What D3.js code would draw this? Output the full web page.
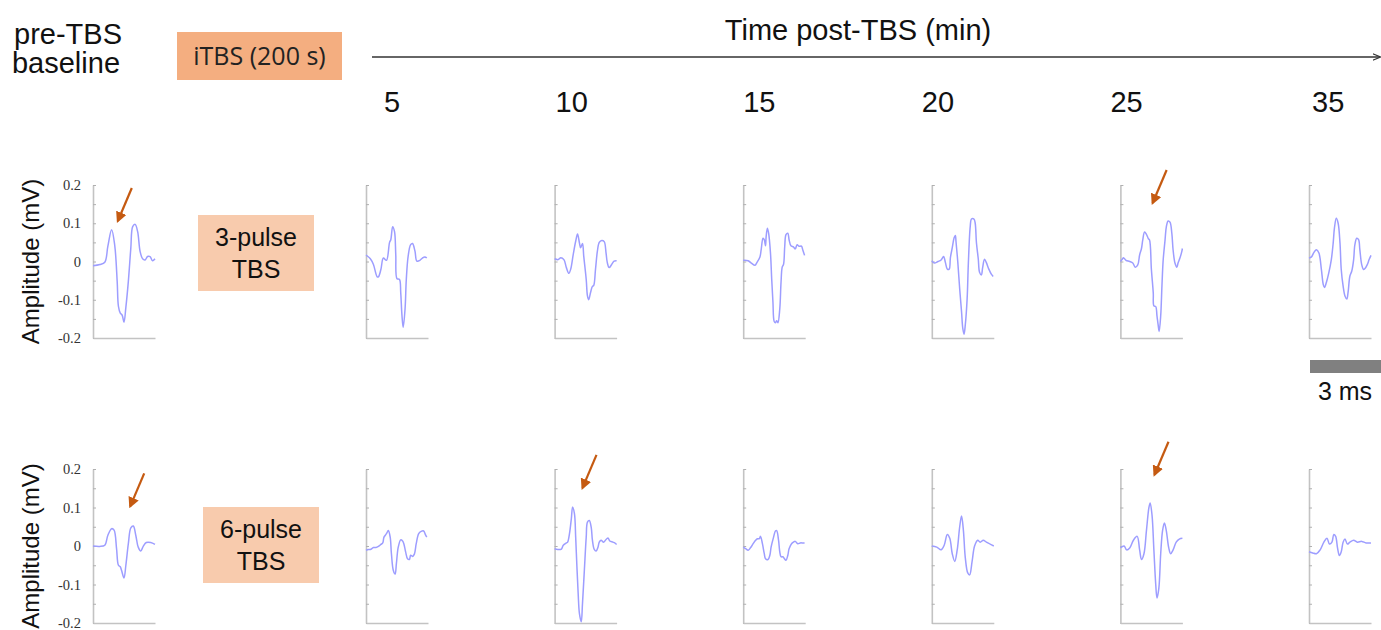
<!DOCTYPE html>
<html>
<head>
<meta charset="utf-8">
<script src="https://cdn.jsdelivr.net/npm/d3@7"></script>
<style>
  html, body { margin: 0; padding: 0; background: #ffffff; }
  svg { display: block; }
</style>
</head>
<body>
<svg id="chart" width="1381" height="630"></svg>
<script>
// ---------------- DATA ----------------
const rowLabels = ["3-pulse\nTBS", "6-pulse\nTBS"];
const timeLabels = ["5", "10", "15", "20", "25", "35"];
const panelKeys = ["baseline", "5", "10", "15", "20", "25", "35"];
const yTickValues = [-0.2, -0.15, -0.1, -0.05, 0, 0.05, 0.1, 0.15, 0.2];
const yTickLabels = ["-0.2", "", "-0.1", "", "0", "", "0.1", "", "0.2"];
const sweepMs = 2.6;           // length of each displayed sweep (ms)
const scaleBarMs = 3;          // scale bar length (ms)

// waveforms: [sweep fraction, amplitude mV]
const tbs3_baseline = [[0,-0.011],[0.11,-0.008],[0.19,-0.002],[0.24,0.04],[0.30,0.083],[0.35,0.043],[0.39,-0.052],[0.41,-0.117],[0.44,-0.135],[0.47,-0.14],[0.50,-0.159],[0.53,-0.12],[0.57,-0.052],[0.61,0.035],[0.64,0.091],[0.68,0.097],[0.72,0.078],[0.76,0.026],[0.80,0.007],[0.84,0.004],[0.88,0.013],[0.92,0.013],[0.96,0.002],[1.00,0.007]];
const tbs3_5 = [[0,0.017],[0.07,0.007],[0.12,-0.008],[0.18,-0.04],[0.20,-0.04],[0.24,-0.021],[0.28,0.009],[0.33,0.003],[0.38,0.05],[0.40,0.057],[0.43,0.091],[0.46,0.078],[0.48,0.018],[0.50,-0.045],[0.54,-0.047],[0.56,-0.081],[0.58,-0.141],[0.60,-0.172],[0.63,-0.124],[0.65,-0.047],[0.68,0.014],[0.72,0.044],[0.75,0.047],[0.79,0.027],[0.82,0.001],[0.87,0.003],[0.91,0.009],[0.95,0.012],[0.98,0.009]];
const tbs3_10 = [[0,0.007],[0.06,0.005],[0.10,0.01],[0.15,0.005],[0.19,-0.016],[0.23,-0.031],[0.26,-0.02],[0.30,0.018],[0.34,0.053],[0.37,0.072],[0.40,0.049],[0.42,0.036],[0.45,0.047],[0.47,0.014],[0.51,-0.047],[0.53,-0.09],[0.55,-0.1],[0.58,-0.081],[0.61,-0.065],[0.63,-0.063],[0.66,-0.02],[0.69,0.027],[0.72,0.05],[0.76,0.055],[0.80,0.052],[0.83,0.022],[0.85,-0.003],[0.88,-0.016],[0.92,-0.008],[0.96,0.001],[1.00,0.002]];
const tbs3_15 = [[0,0.003],[0.08,0.002],[0.13,-0.004],[0.19,-0.01],[0.22,-0.003],[0.27,0.012],[0.29,0.031],[0.32,0.061],[0.34,0.057],[0.36,0.041],[0.37,0.065],[0.39,0.087],[0.41,0.074],[0.44,0.022],[0.46,-0.047],[0.48,-0.107],[0.50,-0.157],[0.52,-0.16],[0.54,-0.155],[0.56,-0.16],[0.59,-0.124],[0.61,-0.055],[0.63,-0.014],[0.65,-0.008],[0.67,0.04],[0.69,0.07],[0.72,0.074],[0.74,0.057],[0.77,0.041],[0.81,0.038],[0.84,0.033],[0.87,0.044],[0.90,0.04],[0.94,0.04],[0.96,0.031],[0.99,0.016]];
const tbs3_20 = [[0,0.002],[0.04,-0.004],[0.10,0],[0.15,0.004],[0.19,0.013],[0.22,-0.003],[0.25,-0.02],[0.28,-0.02],[0.30,0.01],[0.33,0.036],[0.36,0.062],[0.38,0.068],[0.39,0.053],[0.42,-0.003],[0.45,-0.072],[0.48,-0.132],[0.50,-0.175],[0.52,-0.19],[0.54,-0.166],[0.57,-0.097],[0.59,-0.003],[0.62,0.092],[0.64,0.111],[0.68,0.111],[0.70,0.1],[0.72,0.049],[0.75,0.006],[0.77,-0.028],[0.80,-0.035],[0.82,-0.016],[0.85,0.006],[0.88,-0.003],[0.92,-0.02],[0.96,-0.033],[0.99,-0.039]];
const tbs3_25 = [[0,0],[0.03,0.006],[0.05,0.01],[0.09,0.003],[0.15,0],[0.20,-0.004],[0.24,-0.015],[0.28,-0.009],[0.31,0.017],[0.34,0.034],[0.36,0.056],[0.39,0.077],[0.42,0.071],[0.45,0.06],[0.47,0.056],[0.50,-0.021],[0.53,-0.082],[0.54,-0.116],[0.57,-0.118],[0.59,-0.142],[0.61,-0.167],[0.625,-0.183],[0.65,-0.142],[0.67,-0.064],[0.69,0.004],[0.72,0.056],[0.74,0.09],[0.77,0.106],[0.80,0.103],[0.83,0.073],[0.85,0.03],[0.88,-0.004],[0.91,-0.015],[0.93,-0.004],[0.96,0.009],[0.99,0.026],[1.00,0.034]];
const tbs3_35 = [[0,0.009],[0.04,0.012],[0.08,0.024],[0.12,0.031],[0.16,0.022],[0.20,-0.021],[0.23,-0.06],[0.25,-0.068],[0.28,-0.055],[0.32,-0.029],[0.36,0.005],[0.39,0.048],[0.41,0.087],[0.44,0.113],[0.47,0.1],[0.50,0.048],[0.52,-0.021],[0.55,-0.064],[0.58,-0.09],[0.61,-0.098],[0.63,-0.081],[0.66,-0.038],[0.69,-0.025],[0.72,0.005],[0.74,0.044],[0.77,0.061],[0.80,0.057],[0.82,0.031],[0.85,-0.008],[0.88,-0.021],[0.90,-0.019],[0.94,-0.008],[0.97,0.005],[1.00,0.016]];

const tbs6_baseline = [[0,0],[0.11,-0.001],[0.19,0.002],[0.24,0.028],[0.30,0.045],[0.34,0.041],[0.38,-0.007],[0.41,-0.05],[0.44,-0.054],[0.46,-0.063],[0.50,-0.083],[0.53,-0.05],[0.57,0.006],[0.61,0.047],[0.65,0.052],[0.69,0.028],[0.73,-0.003],[0.77,-0.013],[0.81,-0.001],[0.86,0.009],[0.93,0.009],[1.00,0.004]];
const tbs6_5 = [[0,-0.011],[0.04,-0.009],[0.07,-0.009],[0.12,-0.004],[0.16,-0.004],[0.20,-0.001],[0.24,0.004],[0.27,0.008],[0.29,0.023],[0.33,0.032],[0.36,0.04],[0.39,0.023],[0.41,-0.02],[0.44,-0.063],[0.47,-0.073],[0.49,-0.046],[0.52,-0.003],[0.56,0.016],[0.59,0.013],[0.61,0.006],[0.64,-0.016],[0.67,-0.033],[0.70,-0.035],[0.72,-0.024],[0.75,-0.027],[0.78,-0.021],[0.81,0.006],[0.85,0.032],[0.89,0.038],[0.93,0.039],[0.96,0.029],[0.98,0.023]];
const tbs6_10 = [[0,-0.007],[0.05,-0.009],[0.11,-0.008],[0.14,0.002],[0.19,0.008],[0.21,0.01],[0.24,0.032],[0.27,0.071],[0.29,0.101],[0.32,0.084],[0.34,0.023],[0.36,-0.054],[0.38,-0.123],[0.40,-0.175],[0.43,-0.197],[0.45,-0.149],[0.48,-0.063],[0.51,0.023],[0.53,0.062],[0.56,0.066],[0.59,0.049],[0.61,0.015],[0.64,-0.009],[0.67,-0.013],[0.70,-0.003],[0.72,0.01],[0.75,0.015],[0.79,0.01],[0.82,0.015],[0.86,0.021],[0.89,0.013],[0.94,0.01],[0.97,0.008],[1.00,0.004]];
const tbs6_15 = [[0,-0.003],[0.04,-0.007],[0.08,-0.011],[0.12,-0.004],[0.16,0.006],[0.20,0.015],[0.23,0.019],[0.26,0.019],[0.28,0.025],[0.31,0.006],[0.34,-0.02],[0.36,-0.033],[0.40,-0.035],[0.43,-0.024],[0.45,-0.003],[0.49,0.023],[0.52,0.039],[0.54,0.04],[0.57,0.015],[0.59,-0.015],[0.61,-0.028],[0.64,-0.028],[0.66,-0.032],[0.69,-0.037],[0.72,-0.024],[0.74,-0.007],[0.78,0.006],[0.81,0.01],[0.84,0.012],[0.88,0.006],[0.92,0.008],[0.96,0.008],[0.99,0.008]];
const tbs6_20 = [[0,0],[0.08,-0.003],[0.15,-0.01],[0.20,0.002],[0.25,0.03],[0.29,0.02],[0.33,-0.02],[0.37,-0.04],[0.41,-0.01],[0.45,0.05],[0.48,0.078],[0.51,0.04],[0.54,-0.03],[0.58,-0.07],[0.61,-0.075],[0.65,-0.04],[0.69,0],[0.74,0.015],[0.78,0.01],[0.83,0.015],[0.88,0.01],[0.94,0.005],[1.00,0]];
const tbs6_25 = [[0,-0.005],[0.06,0],[0.10,-0.01],[0.15,-0.005],[0.21,0.015],[0.27,0.025],[0.31,-0.01],[0.34,-0.035],[0.38,-0.02],[0.42,0.04],[0.46,0.1],[0.48,0.112],[0.51,0.08],[0.54,-0.01],[0.57,-0.1],[0.59,-0.135],[0.62,-0.11],[0.65,-0.02],[0.68,0.04],[0.71,0.06],[0.74,0.04],[0.78,-0.005],[0.81,-0.02],[0.85,-0.01],[0.90,0.01],[0.95,0.018],[1.00,0.02]];
const tbs6_35 = [[0,-0.015],[0.06,-0.018],[0.12,-0.02],[0.18,-0.01],[0.24,0.01],[0.29,0.02],[0.33,0.005],[0.37,0.01],[0.40,0.03],[0.43,0.025],[0.46,-0.005],[0.49,-0.025],[0.52,-0.015],[0.55,0.01],[0.58,0.018],[0.62,0.005],[0.66,0.01],[0.72,0.015],[0.78,0.01],[0.85,0.012],[0.92,0.008],[1.00,0.008]];

const traces = [
  [tbs3_baseline, tbs3_5, tbs3_10, tbs3_15, tbs3_20, tbs3_25, tbs3_35],
  [tbs6_baseline, tbs6_5, tbs6_10, tbs6_15, tbs6_20, tbs6_25, tbs6_35]
];

// arrows: row, panel key, sweep fraction, amplitude of the arrow tip
const arrowRows   = [0, 1, 0, 1, 1];
const arrowPanels = ["baseline", "baseline", "25", "10", "25"];
const arrowT      = [0.40, 0.60, 0.52, 0.45, 0.55];
const arrowV      = [0.106, 0.103, 0.153, 0.151, 0.185];

// ---------------- LAYOUT ----------------
const svg = d3.select("#chart");
const panelW = 62;
const baselineX = 93;
const postX = d3.scalePoint().domain(timeLabels).range([366, 1309]);
const panelX = k => k === "baseline" ? baselineX : postX(k);
const rowRange = [[338, 185], [623, 469]];
const traceColor = "#9d9dff";
const axisColor = "#c3c3c3";
const arrowColor = "#c55a11";
const sansFont = "'Liberation Sans', Arial, Helvetica, sans-serif";

const yScales = rowRange.map(r => d3.scaleLinear().domain([-0.2, 0.2]).range(r));
const xScaleFor = k => d3.scaleLinear().domain([0, sweepMs]).range([panelX(k), panelX(k) + panelW]);

svg.append("rect").attr("width", 1381).attr("height", 630).attr("fill", "#fff");

const defs = svg.append("defs");
defs.append("marker").attr("id", "timeArrow")
  .attr("viewBox", "0 0 10 10").attr("refX", 9).attr("refY", 5)
  .attr("markerWidth", 8).attr("markerHeight", 8).attr("orient", "auto")
  .attr("markerUnits", "userSpaceOnUse")
  .append("path").attr("d", "M0,1 L10,5 L0,9").attr("fill", "none").attr("stroke", "#333").attr("stroke-width", 1.4);
defs.append("marker").attr("id", "annArrow")
  .attr("viewBox", "0 0 10 10").attr("refX", 8).attr("refY", 5)
  .attr("markerWidth", 11).attr("markerHeight", 11).attr("orient", "auto")
  .attr("markerUnits", "userSpaceOnUse")
  .append("path").attr("d", "M0,0 L10,5 L0,10 Z").attr("fill", arrowColor);

// ---------- Header ----------
const header = svg.append("g").attr("font-family", sansFont).attr("fill", "#111");
header.append("text").attr("x", 68).attr("y", 44).attr("text-anchor", "middle").attr("font-size", 29).text("pre-TBS");
header.append("text").attr("x", 66).attr("y", 73).attr("text-anchor", "middle").attr("font-size", 29).text("baseline");

svg.append("rect").attr("x", 177).attr("y", 32).attr("width", 165).attr("height", 48).attr("fill", "#f4ae80");
svg.append("text").attr("x", 259.5).attr("y", 65).attr("text-anchor", "middle")
  .attr("font-family", "'Open Sans', sans-serif").attr("font-size", 25).attr("fill", "#222").text("iTBS (200 s)");

header.append("text").attr("x", 858).attr("y", 40).attr("text-anchor", "middle").attr("font-size", 29).text("Time post-TBS (min)");
svg.append("line").attr("x1", 372).attr("x2", 1380).attr("y1", 57).attr("y2", 57)
  .attr("stroke", "#333").attr("stroke-width", 1.4).attr("marker-end", "url(#timeArrow)");

const timeLabelDx = [18, 1, 0, -10, -10, 3];
header.selectAll("text.tl").data(timeLabels).join("text").attr("class", "tl")
  .attr("x", (d, i) => postX(d) + timeLabelDx[i]).attr("y", 112)
  .attr("font-size", 29).text(d => d);

// ---------- Row labels ----------
const boxX = [198, 203], boxY = [215, 507], boxW = 116, boxH = [76, 76];
rowLabels.forEach((lab, r) => {
  svg.append("rect").attr("x", boxX[r]).attr("y", boxY[r]).attr("width", boxW).attr("height", boxH[r]).attr("fill", "#f8cbad");
  const lines = lab.split("\n");
  lines.forEach((ln, j) => {
    svg.append("text").attr("x", boxX[r] + boxW / 2).attr("y", boxY[r] + 31 + j * 32)
      .attr("text-anchor", "middle").attr("font-family", sansFont).attr("font-size", 25).attr("fill", "#111").text(ln);
  });
  // y axis title
  const yMid = (rowRange[r][0] + rowRange[r][1]) / 2;
  svg.append("text").attr("transform", `translate(39,${yMid}) rotate(-90)`).attr("text-anchor", "middle")
    .attr("font-family", sansFont).attr("font-size", 24).attr("fill", "#111").text("Amplitude (mV)");
});

// ---------- Panels ----------
const line = d3.line().curve(d3.curveCatmullRom.alpha(0.5));
traces.forEach((rowTraces, r) => {
  const y = yScales[r];
  rowTraces.forEach((data, p) => {
    const key = panelKeys[p];
    const x = xScaleFor(key);
    const g = svg.append("g");
    // y axis
    const yAxis = d3.axisLeft(y).tickValues(yTickValues).tickSize(-3).tickSizeOuter(0).tickPadding(12)
      .tickFormat((d, i) => key === "baseline" ? yTickLabels[i] : "");
    const ya = g.append("g").attr("transform", `translate(${x(0)},0)`).call(yAxis);
    ya.select(".domain").attr("stroke", axisColor).attr("stroke-width", 1.6);
    ya.selectAll(".tick line").attr("stroke", "#b0b0b0").attr("stroke-width", 1);
    ya.selectAll(".tick text").attr("font-family", "'Liberation Serif', 'Times New Roman', serif")
      .attr("font-size", 14.5).attr("fill", "#333");
    // x axis
    const xAxis = d3.axisBottom(x).tickValues([]).tickSizeOuter(0);
    const xa = g.append("g").attr("transform", `translate(0,${y(-0.2)})`).call(xAxis);
    xa.select(".domain").attr("stroke", axisColor).attr("stroke-width", 1.6);
    // trace
    g.append("path").datum(data)
      .attr("d", line.x(d => x(d[0] * sweepMs)).y(d => y(d[1])))
      .attr("fill", "none").attr("stroke", traceColor).attr("stroke-width", 1.5).attr("stroke-linejoin", "round");
  });
});

// ---------- Annotation arrows ----------
arrowRows.forEach((r, i) => {
  const x = xScaleFor(arrowPanels[i]);
  const tx = x(arrowT[i] * sweepMs), ty = yScales[r](arrowV[i]);
  svg.append("line").attr("x1", tx + 14).attr("y1", ty - 33).attr("x2", tx).attr("y2", ty)
    .attr("stroke", arrowColor).attr("stroke-width", 2.2).attr("marker-end", "url(#annArrow)");
});

// ---------- Scale bar ----------
const sbX = xScaleFor("35");
const sbW = sbX(scaleBarMs) - sbX(0);
svg.append("rect").attr("x", sbX(0) + 1).attr("y", 360).attr("width", sbW).attr("height", 13).attr("fill", "#808080");
svg.append("text").attr("x", sbX(0) + 36).attr("y", 400).attr("text-anchor", "middle")
  .attr("font-family", sansFont).attr("font-size", 25).attr("fill", "#111").text("3 ms");
</script>
</body>
</html>
